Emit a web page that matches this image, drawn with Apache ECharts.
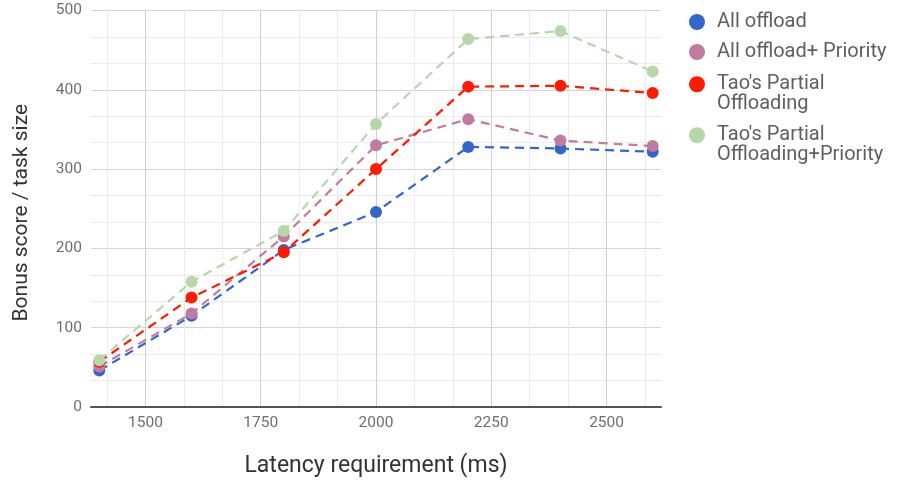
<!DOCTYPE html>
<html>
<head>
<meta charset="utf-8">
<script src="https://cdn.jsdelivr.net/npm/echarts@6/dist/echarts.min.js"></script>
<style>
html,body{margin:0;padding:0;background:#fff;}
#chart{width:898px;height:485px;}
</style>
</head>
<body>
<div id="chart"></div>
<script>
// ---- data ----
var latency = [1400, 1600, 1800, 2000, 2200, 2400, 2600];
var allOffload = [46, 115, 198, 246, 328, 326, 322];
var allOffloadPriority = [51, 118, 215, 330, 363, 336, 329];
var taoPartial = [57, 138, 195, 300, 404, 405, 396];
var taoPartialPriority = [59, 158, 222, 357, 464, 474, 423];
var seriesNames = ["All offload", "All offload+ Priority", "Tao's Partial Offloading", "Tao's Partial Offloading+Priority"];
var legendLabels = ["All offload", "All offload+ Priority", "Tao's Partial\nOffloading", "Tao's Partial\nOffloading+Priority"];
var xMajorTicks = [1500, 1750, 2000, 2250, 2500];
var xMinorTicks = [1416.667, 1583.333, 1666.667, 1833.333, 1916.667, 2083.333, 2166.667, 2333.333, 2416.667, 2583.333];
var yTicks = [0, 100, 200, 300, 400, 500];

var colors = ['#3366cc', '#c27ba0', '#ff1a00', '#b6d7a8'];
var values = [allOffload, allOffloadPriority, taoPartial, taoPartialPriority];

function pairs(ys) { return latency.map(function (x, i) { return [x, ys[i]]; }); }

var FONT = 'Roboto, "Noto Sans", sans-serif';

var series = values.map(function (ys, i) {
  return {
    name: seriesNames[i],
    type: 'line',
    xAxisIndex: 0,
    data: pairs(ys),
    symbol: 'circle',
    symbolSize: 12,
    showSymbol: true,
    color: colors[i],
    itemStyle: { color: colors[i], borderWidth: 0 },
    lineStyle: { color: colors[i], width: 2.2, type: [9, 6] },
    emphasis: { disabled: true },
    animation: false
  };
});

var twoLineIcon = 'path://M0,0M0,8A8,8,0,1,0,16,8A8,8,0,1,0,0,8ZM16,35';
var legendTops = [12, 42, 74, 125];
var legends = seriesNames.map(function (n, i) {
  var two = legendLabels[i].indexOf('\n') >= 0;
  return {
    left: 689,
    top: legendTops[i],
    orient: 'vertical',
    selectedMode: false,
    itemWidth: 16,
    itemHeight: two ? 35 : 16,
    padding: 0,
    data: [{ name: n, icon: two ? twoLineIcon : 'circle' }],
    formatter: function () { return legendLabels[i]; },
    itemStyle: { borderWidth: 0 },
    textStyle: { fontSize: 20, color: '#5f5f5f', fontFamily: FONT, lineHeight: 19.5, padding: [0, 0, 0, 7] }
  };
});

var option = {
  backgroundColor: '#ffffff',
  animation: false,
  grid: { left: 91, right: 237, top: 10.5, bottom: 78, containLabel: false, outerBoundsMode: 'none' },
  legend: legends,
  xAxis: [
    {
      type: 'value', min: 1382, max: 2618, position: 'bottom',
      name: 'Latency requirement (ms)', nameLocation: 'middle', nameGap: 48,
      nameTextStyle: { fontSize: 23, color: '#333', fontFamily: FONT },
      axisLine: { show: true, onZero: false, lineStyle: { color: '#555', width: 2 } },
      axisTick: { show: false, customValues: xMajorTicks },
      axisLabel: { customValues: xMajorTicks, fontSize: 15.5, color: '#6e6e6e', fontFamily: FONT, margin: 8,
        formatter: function (v) { return String(v); } },
      splitLine: { show: true, lineStyle: { color: '#cfcfcf', width: 1 } },
      z: 3
    },
    {
      type: 'value', min: 1382, max: 2618, position: 'bottom',
      axisLine: { show: false },
      axisTick: { show: false, customValues: xMinorTicks },
      axisLabel: { show: false, customValues: xMinorTicks },
      splitLine: { show: true, lineStyle: { color: '#ebebeb', width: 1 } },
      z: 1
    }
  ],
  yAxis: {
    type: 'value', min: 0, max: 500, interval: 100,
    name: 'Bonus score / task size', nameLocation: 'middle', nameGap: 59,
    nameTextStyle: { fontSize: 21, color: '#333', fontFamily: FONT, padding: [0, 8, 0, 0] },
    axisLine: { show: false },
    axisTick: { show: false },
    axisLabel: { fontSize: 15.5, color: '#6e6e6e', fontFamily: FONT, margin: 9,
      formatter: function (v) { return yTicks.indexOf(v) >= 0 ? String(v) : ''; } },
    splitLine: { show: true, lineStyle: { color: '#d4d4d4', width: 1 } },
    minorTick: { show: false, splitNumber: 3 },
    minorSplitLine: { show: true, lineStyle: { color: '#ebebeb', width: 1 } }
  },
  series: series
};

var chart = echarts.init(document.getElementById('chart'), null, { renderer: 'canvas' });
chart.setOption(option);
</script>
</body>
</html>
